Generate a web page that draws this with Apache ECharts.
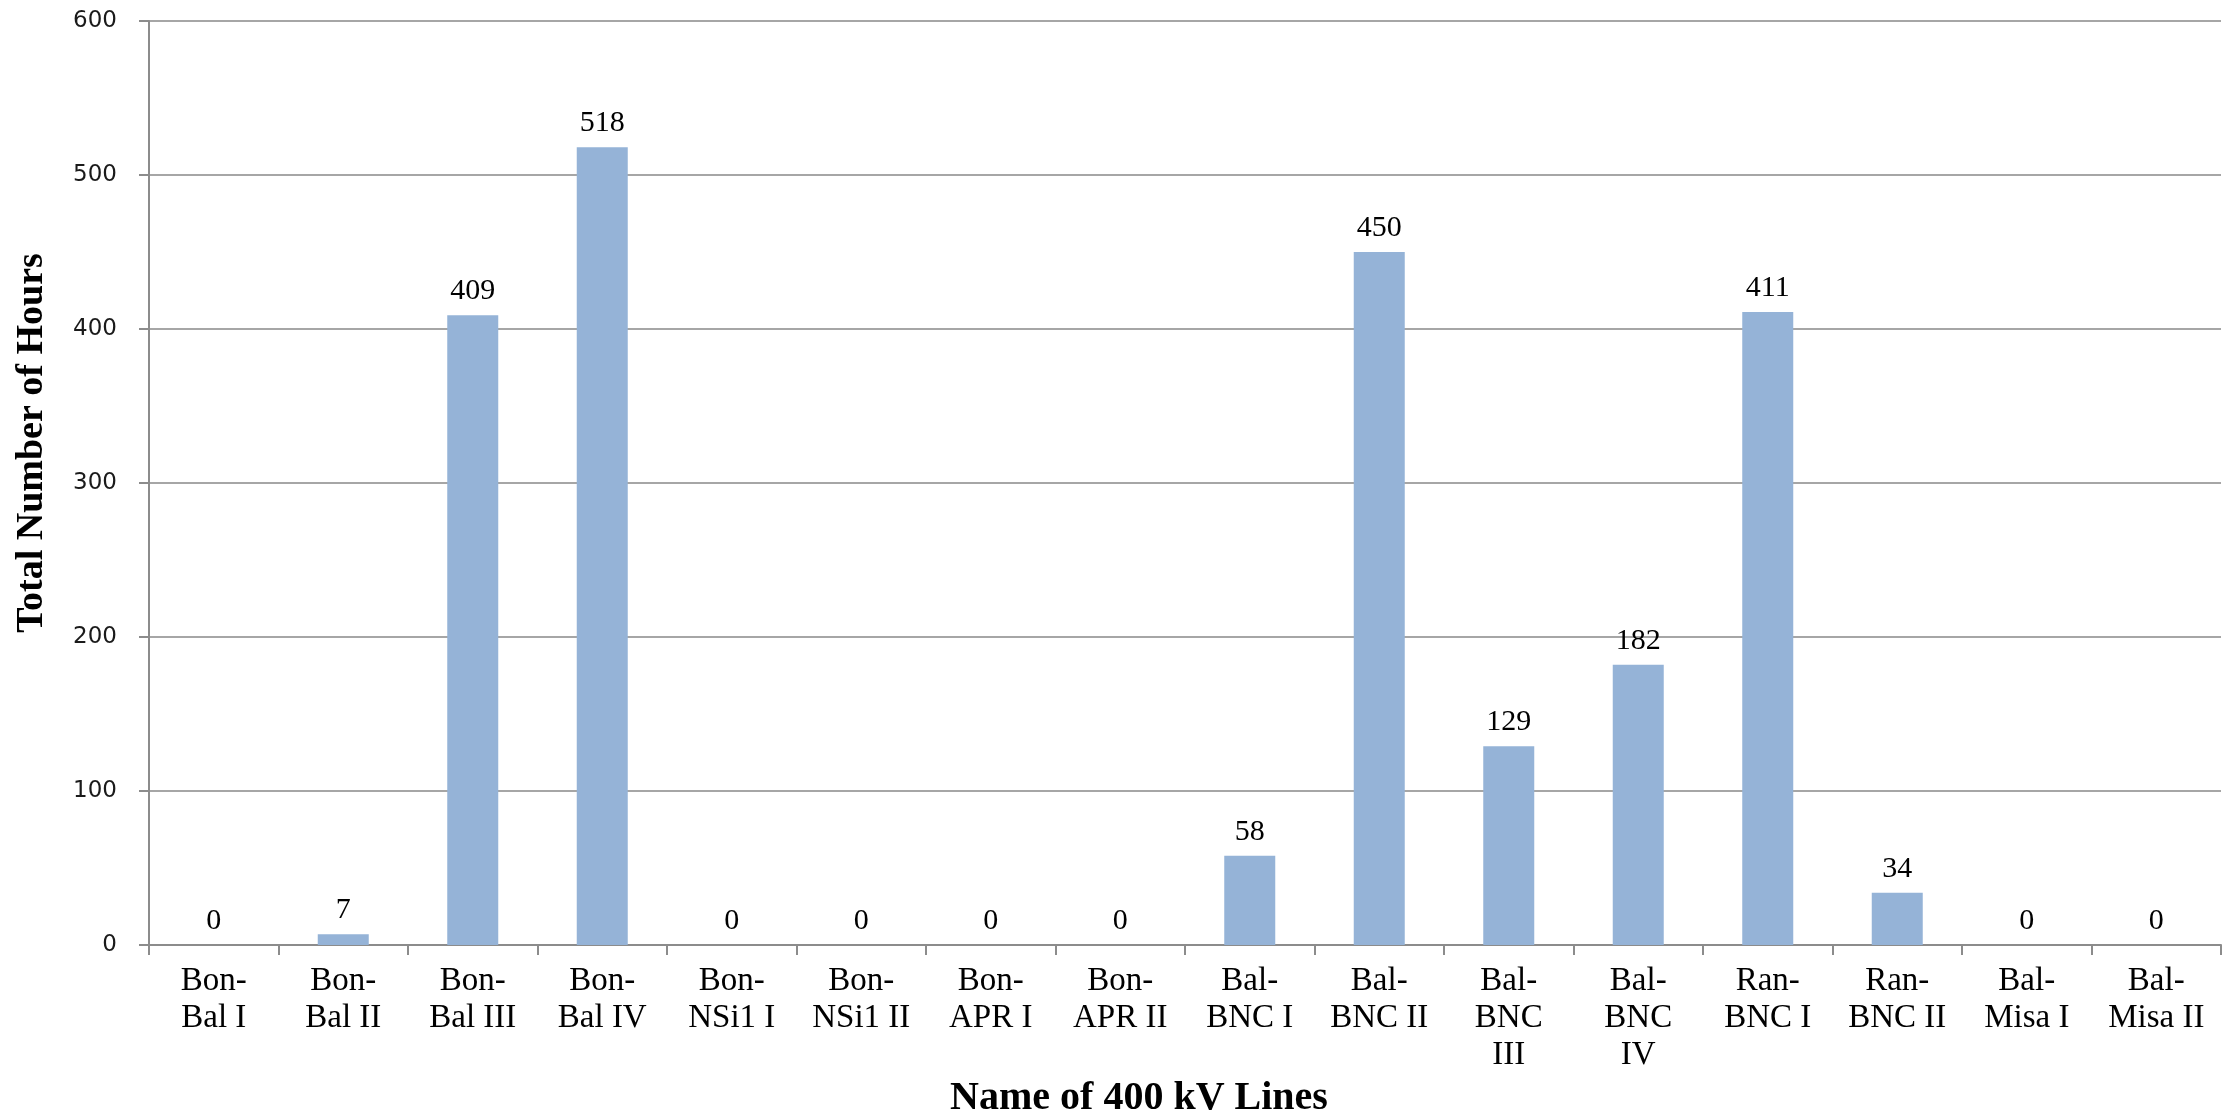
<!DOCTYPE html>
<html>
<head>
<meta charset="utf-8">
<script src="https://cdn.jsdelivr.net/npm/echarts@6/dist/echarts.min.js"></script>
<style>
  html, body { margin: 0; padding: 0; background: #fff; }
  #chart { width: 2229px; height: 1111px; }
</style>
</head>
<body>
<div id="chart"></div>
<script>
const lines = [
  'Bon-\nBal I', 'Bon-\nBal II', 'Bon-\nBal III', 'Bon-\nBal IV',
  'Bon-\nNSi1 I', 'Bon-\nNSi1 II', 'Bon-\nAPR I', 'Bon-\nAPR II',
  'Bal-\nBNC I', 'Bal-\nBNC II', 'Bal-\nBNC\nIII', 'Bal-\nBNC\nIV',
  'Ran-\nBNC I', 'Ran-\nBNC II', 'Bal-\nMisa I', 'Bal-\nMisa II'
]
const hours = [0, 7, 409, 518, 0, 0, 0, 0, 58, 450, 129, 182, 411, 34, 0, 0]
const yTicks = [0, 100, 200, 300, 400, 500, 600]

const serif = '"Liberation Serif", "Times New Roman", serif'
const gridGray = '#a6a6a6'

const myChart = echarts.init(document.getElementById('chart'))
myChart.setOption({
  animation: false,
  backgroundColor: '#fff',
  grid: {
    left: 149,
    right: 8,
    top: 21,
    bottom: 166,
    containLabel: false,
    outerBoundsMode: 'none'
  },
  xAxis: {
    type: 'category',
    data: lines,
    name: 'Name of 400 kV Lines',
    nameLocation: 'middle',
    nameGap: 118,
    nameTextStyle: {
      fontFamily: serif,
      fontWeight: 'bold',
      fontSize: 40,
      color: '#000',
      padding: [0, 92, 0, 0]
    },
    axisLine: { lineStyle: { color: '#8c8c8c', width: 2 } },
    axisTick: { show: true, length: 10, lineStyle: { color: '#8c8c8c', width: 2 } },
    axisLabel: {
      interval: 0,
      margin: 18,
      fontFamily: serif,
      fontSize: 33,
      lineHeight: 37,
      color: '#000'
    }
  },
  yAxis: {
    type: 'value',
    min: 0,
    max: 600,
    interval: 100,
    name: 'Total Number of Hours',
    nameLocation: 'middle',
    nameGap: 98,
    nameTextStyle: {
      fontFamily: serif,
      fontWeight: 'bold',
      fontSize: 38,
      color: '#000',
      padding: [0, 0, 0, 80]
    },
    axisLine: { show: true, lineStyle: { color: '#8c8c8c', width: 2 } },
    axisTick: { show: true, length: 10, lineStyle: { color: '#8c8c8c', width: 2 } },
    splitLine: { lineStyle: { color: gridGray, width: 2 } },
    axisLabel: {
      margin: 32,
      fontFamily: '"DejaVu Sans", Verdana, sans-serif',
      fontSize: 23,
      color: '#1a1a1a',
      formatter: v => (yTicks.includes(v) ? String(v) : '')
    }
  },
  series: [{
    name: 'Hours',
    type: 'bar',
    data: hours,
    barWidth: 51,
    itemStyle: { color: '#95b3d7' },
    label: {
      show: true,
      position: 'top',
      distance: 9,
      fontFamily: serif,
      fontSize: 30,
      color: '#000'
    }
  }]
})
</script>
</body>
</html>
